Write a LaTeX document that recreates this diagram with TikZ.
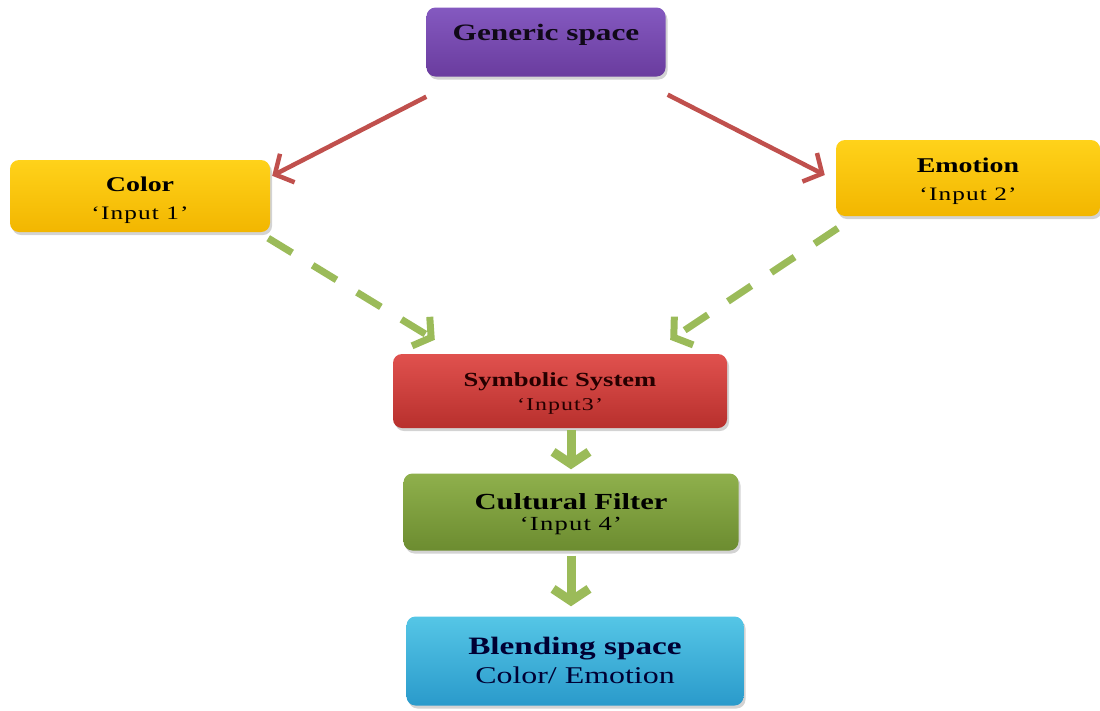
\documentclass[tikz,border=0pt]{standalone}
\usepackage{fontspec}
\setmainfont{Liberation Serif}
\newfontfamily\wfont[FakeStretch=1.33]{Liberation Serif}
\newfontfamily\ifont[FakeStretch=1.33,LetterSpace=6]{Liberation Serif}
\usetikzlibrary{arrows.meta,shadows,calc}
\definecolor{purpT}{HTML}{8459C0}
\definecolor{purpB}{HTML}{6A3C9E}
\definecolor{yelT}{HTML}{FFD21A}
\definecolor{yelB}{HTML}{F2B600}
\definecolor{redT}{HTML}{E0514E}
\definecolor{redB}{HTML}{B8302D}
\definecolor{grnT}{HTML}{8FB04C}
\definecolor{grnB}{HTML}{6C8C30}
\definecolor{bluT}{HTML}{55C6E6}
\definecolor{bluB}{HTML}{2A9ACB}
\definecolor{arrRed}{HTML}{C0504D}
\definecolor{arrGrn}{HTML}{9BBB59}
% #1 size of line 1, #2 line 1, #3 size of line 2, #4 font of line 2, #5 line 2, #6 gap
\newcommand{\twolines}[6]{%
  \begin{tabular}{@{}c@{}}%
  \wfont\fontsize{#1}{#1}\selectfont\bfseries #2\\[#6]%
  #4\fontsize{#3}{#3}\selectfont #5%
  \end{tabular}}
\tikzset{
  box/.style={draw=none, rounded corners=9pt, align=center, inner sep=2pt,
    drop shadow={opacity=0.35, shadow xshift=2pt, shadow yshift=-3pt}},
  redarrow/.style={draw=arrRed, line width=4.5pt, -{Straight Barb[length=14pt,width=32pt]}},
  grndash/.style={draw=arrGrn, line width=7pt, dash pattern=on 28pt off 24pt, -{Straight Barb[length=12pt,width=34pt]}},
  grnarrow/.style={draw=arrGrn, line width=9pt, -{Straight Barb[length=12pt,width=36pt]}}
}
\begin{document}
\begin{tikzpicture}[x=1pt,y=-1pt]
\useasboundingbox (0,0) rectangle (1100,710);
\node[box, top color=purpT, bottom color=purpB, minimum width=239pt, minimum height=69pt, text=black!85!purpB, text depth=20pt] (gen) at (546,42)
  {\wfont\fontsize{23.5}{23.5}\selectfont\bfseries Generic space};
\node[box, top color=yelT, bottom color=yelB, minimum width=260pt, minimum height=72pt, text depth=12pt] (col) at (140,196)
  {\twolines{21}{Color}{19}{\ifont}{‘Input 1’}{11pt}};
\node[box, top color=yelT, bottom color=yelB, minimum width=264pt, minimum height=76pt, text depth=14pt] (emo) at (968,178)
  {\twolines{21}{Emotion}{19}{\ifont}{‘Input 2’}{11pt}};
\node[box, top color=redT, bottom color=redB, minimum width=334pt, minimum height=74pt, text=black!85!red, text depth=13pt] (sym) at (560,391)
  {\twolines{20}{Symbolic System}{18}{\ifont}{‘Input3’}{8pt}};
\node[box, top color=grnT, bottom color=grnB, minimum width=335pt, minimum height=77pt, text depth=14pt] (cul) at (571,512)
  {\twolines{23}{Cultural Filter}{20}{\ifont}{‘Input 4’}{4pt}};
\node[box, top color=bluT, bottom color=bluB, minimum width=337pt, minimum height=89pt, text=black!80!blue, text depth=20pt] (ble) at (575,661)
  {\twolines{25}{Blending space}{24}{\wfont}{Color/ Emotion}{8pt}};
\draw[redarrow] ($(gen.south west)+(0,20)$) -- ($(col.north east)+(2,16)$);
\draw[redarrow] ($(gen.south east)+(2,18)$) -- ($(emo.west)+(-11,-3)$);
\draw[grndash] ($(col.south east)+(-2,6)$) -- ($(sym.north west)+(42,-14)$);
\draw[grndash] ($(emo.south west)+(2,12)$) -- ($(sym.north east)+(-57,-14)$);
\draw[grnarrow] ($(sym.south -| cul.north)+(0,2)$) -- ($(cul.north)+(0,-4)$);
\draw[grnarrow] ($(cul.south)+(0,5)$) -- ($(cul.south |- ble.north)+(0,-10)$);
\end{tikzpicture}
\end{document}
